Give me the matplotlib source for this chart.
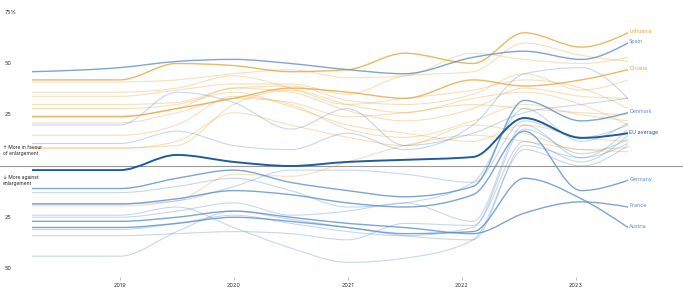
import numpy as np
import matplotlib.pyplot as plt
from matplotlib.path import Path
from matplotlib.patches import PathPatch

plt.rcParams['font.family'] = ['Inter', 'DejaVu Sans']

# survey waves (fractional years)
waves = [2018.23, 2019.0, 2019.5, 2020.0, 2020.5, 2021.0, 2021.5, 2022.1, 2022.55, 2023.05, 2023.46]

# net balance: in favour minus against enlargement (% points)
eu_average = [-2, -2, 5.4, 2, 0, 2, 3, 4.4, 23.4, 13.7, 16]

lithuania = [42, 42, 50, 49, 46, 47, 55, 50, 65, 58, 65]
croatia = [24, 24, 28, 33, 38, 36, 33, 42, 39, 42, 47]
spain = [46, 48, 51, 52, 50, 47, 45, 53, 56, 52, 60]
denmark = [-11, -11, -6, -2, -8, -12, -15, -10, 32, 22, 26]
germany = [-18.5, -18.5, -16, -12, -14, -18, -20, -14, 17, -12, -7]
france = [-27, -27, -25, -22, -25, -28, -30, -33, -23, -17.5, -20]
austria = [-30, -30, -28, -25, -27, -30, -33, -32, -6, -16, -30]

other_new = [
    [41, 41, 42, 45, 47, 43, 44, 55, 52, 50, 53],
    [34, 34, 37, 40, 40, 35, 44, 46, 60, 54, 51],
    [30, 30, 31, 38, 39, 32, 30, 35, 45, 37, 42],
    [24.5, 24.5, 28, 38, 36, 27, 22, 28, 38, 34, 33],
    [21, 21, 26, 33, 31, 24, 26, 30, 28, 26, 25],
    [15, 15, 20, 34, 30, 18, 14, 22, 30, 25, 22],
    [9, 9, 10, 30, 37, 30, 26, 33, 36, 30, 20],
    [8.5, 8.5, 12, 26, 20, 14, 10, 20, 16, 8, 9],
    [-19.5, -19.5, -17, -4, -5, 2, 10, 15, 12, 8, 7],
    [36, 36, 38, 44, 38, 30, 33, 37, 42, 38, 28],
    [28, 28, 30, 36, 29, 20, 16, 12, 20, 14, 12],
]
other_old = [
    [20, 20, 36, 31, 18, 28, 10, 16, 26, 30, 33],
    [11, 11, 17, 10, 8, 16, 8, 20, 45, 48, 33],
    [-13, -13, -10, -6, -12, -20, -18, -8, 28, 12, 21],
    [-25, -25, -22, -18, -24, -22, -18, -27, 20, 4, 18],
    [-31, -31, -28, -24, -28, -32, -34, -30, 18, 6, 13],
    [-34, -34, -33, -32, -33, -36, -28, -29, 12, 2, 15],
    [-44, -44, -32, -22, -26, -30, -34, -36, 10, 4, 11],
    [-24, -24, -20, -30, -40, -47, -45, -36, 8, 0, 10],
    [-18.5, -18.5, -17, -10, -2, -2, -4, -8, 22, 14, 20],
]

years = [2019, 2020, 2021, 2022, 2023]
y_labels = {75: '75%', 50: '50', 25: '25', -25: '25', -50: '50'}

ORANGE = '#e8a63c'
BLUE = '#5b8fcc'
DARK = '#1f5c9e'


def monotone_path(xs, ys):
    # d3-style curveMonotoneX as cubic bezier segments
    xs = np.asarray(xs, float)
    ys = np.asarray(ys, float)
    n = len(xs)
    h = np.diff(xs)
    s = np.diff(ys) / h
    t = np.zeros(n)
    for i in range(1, n - 1):
        if s[i - 1] * s[i] <= 0:
            t[i] = 0
        else:
            p = (s[i - 1] * h[i] + s[i] * h[i - 1]) / (h[i - 1] + h[i])
            t[i] = (np.sign(s[i - 1]) + np.sign(s[i])) * min(abs(s[i - 1]), abs(s[i]), 0.5 * abs(p))
    t[0] = (3 * s[0] - t[1]) / 2 if n > 2 else s[0]
    t[-1] = (3 * s[-1] - t[-2]) / 2 if n > 2 else s[-1]
    verts = [(xs[0], ys[0])]
    codes = [Path.MOVETO]
    for i in range(n - 1):
        dx = h[i] / 3
        verts += [(xs[i] + dx, ys[i] + t[i] * dx),
                  (xs[i + 1] - dx, ys[i + 1] - t[i + 1] * dx),
                  (xs[i + 1], ys[i + 1])]
        codes += [Path.CURVE4] * 3
    return Path(verts, codes)


def draw(ax, vals, color, lw, alpha, z):
    ax.add_patch(PathPatch(monotone_path(waves, vals), fill=False, edgecolor=color,
                           lw=lw, alpha=alpha, zorder=z, capstyle='round'))


W, H = 683, 289
fig = plt.figure(figsize=(W / 100, H / 100), dpi=100)
px = 2.05  # pixels per point
zero_y = 166
top_px, bot_px = 8, 277
ax = fig.add_axes([32 / W, (H - bot_px) / H, (628 - 32) / W, (bot_px - top_px) / H])
ax.set_xlim(waves[0], waves[-1])
ax.set_ylim(-(bot_px - zero_y) / px, (zero_y - top_px) / px)
for sp in ax.spines.values():
    sp.set_visible(False)
ax.set_yticks([])
ax.set_xticks(years)
ax.set_xticklabels([str(y) for y in years], fontsize=4, color='#333333')
ax.tick_params(axis='x', length=2, width=0.4, color='#888888', pad=2)

for vals in other_new:
    draw(ax, vals, ORANGE, 0.8, 0.35, 2)
for vals in other_old:
    draw(ax, vals, BLUE, 0.8, 0.35, 2)

for vals in [lithuania, croatia]:
    draw(ax, vals, ORANGE, 1.0, 0.8, 3)
for vals in [spain, denmark, germany, france, austria]:
    draw(ax, vals, BLUE, 1.0, 0.8, 3)
draw(ax, eu_average, DARK, 1.4, 1.0, 4)

ax.axhline(0, xmin=-32 / 596, xmax=1 + 55 / 596, color='#999999', lw=0.8,
           clip_on=False, zorder=1)

end_labels = [('Lithuania', lithuania, ORANGE), ('Spain', spain, BLUE),
              ('Croatia', croatia, ORANGE), ('Denmark', denmark, BLUE),
              ('EU average', eu_average, DARK), ('Germany', germany, BLUE),
              ('France', france, BLUE), ('Austria', austria, BLUE)]
for name, vals, c in end_labels:
    ax.text(waves[-1] + 0.01, vals[-1] + 0.5, name, fontsize=3.8, color=c,
            va='center', ha='left', clip_on=False)

tr = ax.get_yaxis_transform()
for v, lab in y_labels.items():
    ax.text(-27 / 596, v, lab, transform=tr, fontsize=4, color='#333333',
            va='center', ha='left')

ax.text(-29 / 596, 7.5, '↑ More in favour\nof enlargement', transform=tr, fontsize=3.5,
        color='#222222', va='center', ha='left', linespacing=1.3)
ax.text(-29 / 596, -7, '↓ More against\nenlargement', transform=tr, fontsize=3.5,
        color='#222222', va='center', ha='left', linespacing=1.3)

fig.savefig('out.png', dpi=100, facecolor='white')
